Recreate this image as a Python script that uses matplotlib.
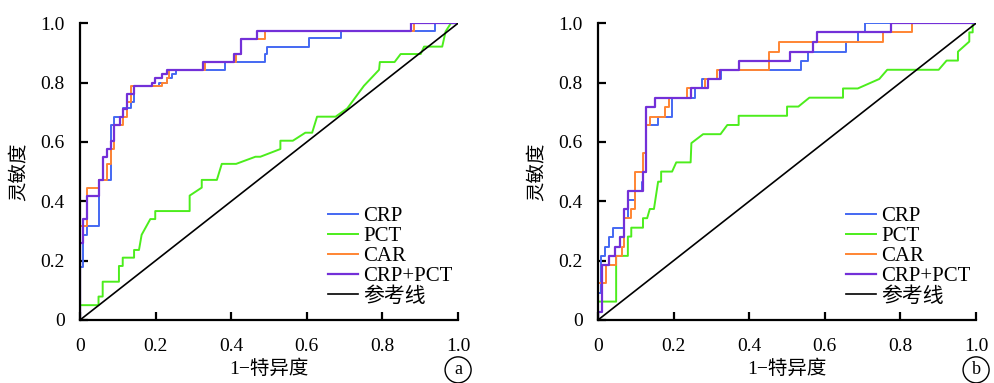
import matplotlib.pyplot as plt
import numpy as np

plt.rcParams['font.family'] = ['Liberation Serif', 'Noto Sans CJK SC', 'DejaVu Sans']

# ---- panel a : step curves as (x where it jumps, new sensitivity) ----
a_crp_x = [0, 0.009, 0.019, 0.051, 0.081, 0.091, 0.115, 0.135, 0.144, 0.208, 0.230, 0.243, 0.254, 0.384, 0.488, 0.495, 0.605, 0.690, 0.938]
a_crp_y = [0.18, 0.287, 0.315, 0.472, 0.657, 0.685, 0.713, 0.736, 0.789, 0.80, 0.815, 0.829, 0.843, 0.869, 0.896, 0.921, 0.949, 0.972, 1.0]

a_car_x = [0, 0.019, 0.051, 0.071, 0.081, 0.091, 0.115, 0.124, 0.134, 0.216, 0.230, 0.236, 0.331, 0.413, 0.426, 0.490, 0.883]
a_car_y = [0.315, 0.446, 0.472, 0.526, 0.576, 0.657, 0.685, 0.735, 0.789, 0.80, 0.815, 0.843, 0.869, 0.896, 0.947, 0.972, 1.0]

a_cp_x = [0, 0.009, 0.019, 0.051, 0.062, 0.071, 0.081, 0.091, 0.106, 0.115, 0.124, 0.144, 0.190, 0.199, 0.216, 0.230, 0.324, 0.406, 0.426, 0.468, 0.875]
a_cp_y = [0.26, 0.34, 0.419, 0.472, 0.55, 0.576, 0.604, 0.657, 0.685, 0.71, 0.762, 0.789, 0.80, 0.815, 0.829, 0.843, 0.869, 0.896, 0.947, 0.972, 1.0]

# PCT drawn as a polyline
a_pct_x = [0, 0, 0.049, 0.049, 0.060, 0.060, 0.103, 0.103, 0.113, 0.113, 0.143, 0.143, 0.156, 0.163, 0.186, 0.199, 0.199,
           0.290, 0.290, 0.322, 0.322, 0.362, 0.375, 0.413, 0.464, 0.477, 0.530, 0.530, 0.563, 0.596, 0.614, 0.627,
           0.676, 0.707, 0.751, 0.791, 0.793, 0.832, 0.848, 0.901, 0.910, 0.958, 0.967, 0.981, 1.0]
a_pct_y = [0, 0.05, 0.05, 0.079, 0.079, 0.129, 0.129, 0.182, 0.182, 0.21, 0.21, 0.236, 0.236, 0.287, 0.34, 0.34, 0.367,
           0.367, 0.419, 0.446, 0.472, 0.472, 0.526, 0.526, 0.55, 0.55, 0.576, 0.604, 0.604, 0.631, 0.631, 0.685,
           0.685, 0.713, 0.789, 0.843, 0.869, 0.869, 0.896, 0.896, 0.921, 0.921, 0.972, 1.0, 1.0]

# ---- panel b ----
b_crp_x = [0, 0.009, 0.019, 0.029, 0.040, 0.069, 0.079, 0.097, 0.116, 0.119, 0.128, 0.159, 0.196, 0.256, 0.275, 0.326, 0.537, 0.555, 0.656, 0.687, 0.707]
b_crp_y = [0.09, 0.216, 0.247, 0.281, 0.311, 0.343, 0.404, 0.436, 0.466, 0.5, 0.657, 0.685, 0.749, 0.78, 0.812, 0.843, 0.874, 0.904, 0.938, 0.969, 1.0]

b_car_x = [0, 0.020, 0.048, 0.063, 0.069, 0.088, 0.099, 0.119, 0.128, 0.138, 0.178, 0.187, 0.235, 0.282, 0.315, 0.452, 0.480, 0.755, 0.830]
b_car_y = [0.124, 0.185, 0.216, 0.247, 0.343, 0.374, 0.5, 0.562, 0.657, 0.685, 0.719, 0.749, 0.78, 0.812, 0.843, 0.904, 0.938, 0.969, 1.0]

b_cp_x = [0, 0.011, 0.029, 0.044, 0.059, 0.069, 0.079, 0.119, 0.128, 0.150, 0.245, 0.290, 0.324, 0.373, 0.509, 0.568, 0.579, 0.775]
b_cp_y = [0.028, 0.185, 0.216, 0.247, 0.281, 0.374, 0.436, 0.5, 0.719, 0.749, 0.78, 0.812, 0.843, 0.874, 0.904, 0.938, 0.969, 1.0]

b_pct_x = [0, 0, 0.048, 0.048, 0.079, 0.079, 0.088, 0.088, 0.119, 0.119, 0.130, 0.137, 0.148, 0.159, 0.167, 0.167, 0.196,
           0.207, 0.245, 0.247, 0.278, 0.324, 0.342, 0.372, 0.372, 0.500, 0.500, 0.530, 0.559, 0.648, 0.648, 0.687,
           0.744, 0.765, 0.901, 0.922, 0.952, 0.952, 0.982, 0.982, 0.991, 0.991, 1.0]
b_pct_y = [0, 0.062, 0.062, 0.216, 0.216, 0.281, 0.281, 0.311, 0.311, 0.343, 0.343, 0.374, 0.374, 0.466, 0.466, 0.5, 0.5,
           0.531, 0.531, 0.596, 0.626, 0.626, 0.657, 0.657, 0.688, 0.688, 0.719, 0.719, 0.749, 0.749, 0.78, 0.78,
           0.812, 0.843, 0.843, 0.874, 0.874, 0.904, 0.938, 0.969, 0.969, 1.0, 1.0]

names = ['CRP', 'PCT', 'CAR', 'CRP+PCT', '参考线']
colors = ['#4468f2', '#4ced1c', '#ff8533', '#7330d8', 'black']
ticks = [0, 0.2, 0.4, 0.6, 0.8, 1.0]
tick_labels = ['0', '0.2', '0.4', '0.6', '0.8', '1.0']


def roc_steps(xs, ys):
    # vertical jump at each x, then flat until the next one, flat to 1 at the end
    x = [0] + list(xs) + [1]
    y = [0] + list(ys) + [ys[-1]]
    return x, y


fig = plt.figure(figsize=(9.95, 3.83), dpi=100)
panels = [
    (0.0804, 'a', (a_crp_x, a_crp_y), (a_pct_x, a_pct_y), (a_car_x, a_car_y), (a_cp_x, a_cp_y)),
    (0.601, 'b', (b_crp_x, b_crp_y), (b_pct_x, b_pct_y), (b_car_x, b_car_y), (b_cp_x, b_cp_y)),
]

for left, tag, crp, pct, car, cp in panels:
    ax = fig.add_axes([left, 0.1645, 0.380, 0.775])
    x, y = roc_steps(*crp)
    ax.step(x, y, where='post', color=colors[0], lw=1.4, label=names[0])
    ax.plot(pct[0], pct[1], color=colors[1], lw=1.4, label=names[1])
    x, y = roc_steps(*car)
    ax.step(x, y, where='post', color=colors[2], lw=1.4, label=names[2])
    x, y = roc_steps(*cp)
    ax.step(x, y, where='post', color=colors[3], lw=1.6, label=names[3])
    ax.plot([0, 1], [0, 1], color=colors[4], lw=1.2, label=names[4])

    ax.set_xlim(0, 1)
    ax.set_ylim(0, 1)
    ax.spines['top'].set_visible(False)
    ax.spines['right'].set_visible(False)
    ax.spines['left'].set_linewidth(1.6)
    ax.spines['bottom'].set_linewidth(1.6)
    ax.set_xticks(ticks)
    ax.set_yticks(ticks)
    ax.set_xticklabels(tick_labels)
    ax.set_yticklabels(tick_labels)
    ax.tick_params(direction='in', length=6, width=1.6, labelsize=14)
    ax.tick_params(axis='x', pad=13)
    ax.tick_params(axis='y', pad=11)
    for lab in ax.get_xticklabels() + ax.get_yticklabels():
        lab.set_clip_on(False)
    ax.set_xlabel('1−特异度', fontsize=14, labelpad=3)
    ax.set_ylabel('灵敏度', fontsize=14, labelpad=9)

    ax.legend(loc='lower right', bbox_to_anchor=(0.985, 0.045), frameon=False, fontsize=15,
              handlelength=1.45, handletextpad=0.25, labelspacing=0.03, borderaxespad=0, borderpad=0)

    ax.text(1.0, -0.168, tag, transform=ax.transAxes, ha='center', va='center', fontsize=13,
            bbox=dict(boxstyle='circle,pad=0.25', fc='white', ec='black', lw=1.0))

fig.savefig('out.png', dpi=100)
